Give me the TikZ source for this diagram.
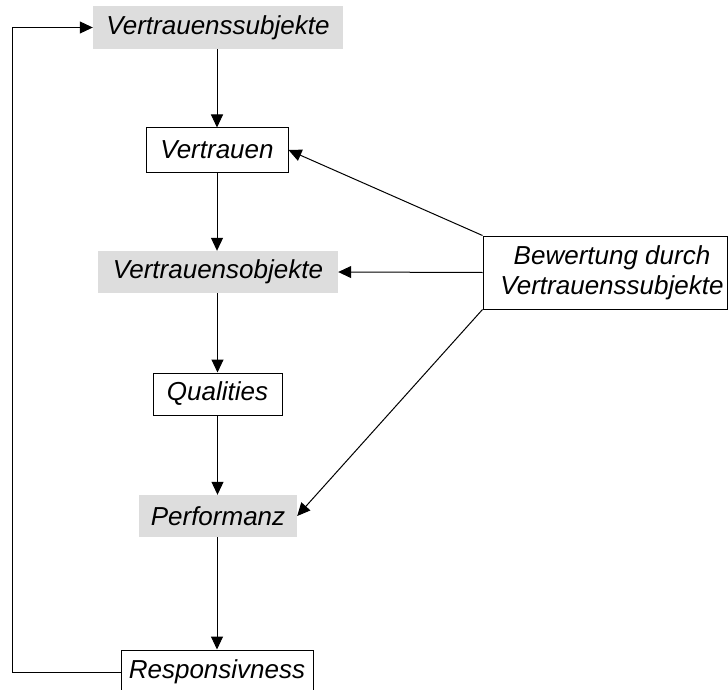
\documentclass[tikz,border=0pt]{standalone}
\usepackage{fontspec}
\setmainfont{Liberation Sans}
\usetikzlibrary{arrows.meta}
\definecolor{boxgray}{RGB}{221,221,221}
\tikzset{
  lbl/.style={font=\fontsize{26}{30}\selectfont\itshape, inner sep=0pt, align=center},
  grayfill/.style={lbl, fill=boxgray},
  framed/.style={lbl, draw=black, line width=1pt, fill=white},
  conn/.style={line width=1pt, -{Triangle[length=13pt,width=12pt]}}
}
\begin{document}
\begin{tikzpicture}[x=1pt,y=-1pt]
\useasboundingbox (0,0) rectangle (728,690);
\node[grayfill, minimum width=250pt, minimum height=43pt] (vs) at (218,27.5) {Vertrauenssubjekte};
\node[framed, minimum width=142pt, minimum height=44pt] (v) at (217,150) {Vertrauen};
\node[grayfill, minimum width=240pt, minimum height=42pt] (vo) at (218,272) {Vertrauensobjekte};
\node[framed, minimum width=129pt, minimum height=42pt] (q) at (217.5,394) {Qualities};
\node[grayfill, minimum width=158pt, minimum height=42pt] (p) at (218,516) {Performanz};
\node[framed, minimum width=192pt, minimum height=44pt] (r) at (217,672) {Responsivness};
\node[framed, minimum width=244pt, minimum height=73pt] (b) at (605,272.5) {\hspace*{14pt}Bewertung durch\\\hspace*{14pt}Vertrauenssubjekte};
\coordinate (lb) at (12,672);
\coordinate (lt) at (12,27.5);
\draw[conn] (vs.south -| v.north) -- (v.north);
\draw[conn] (v.south) -- (v.south |- vo.north);
\draw[conn] (vo.south -| q.north) -- (q.north);
\draw[conn] (q.south) -- (q.south |- p.north);
\draw[conn] (p.south -| r.north) -- (r.north);
\draw[conn] (r.west) -- (lb) -- (lt) -- (vs.west);
\draw[conn] (b.north west) -- (v.east);
\draw[conn] (b.west) -- (vo.east);
\draw[conn] (b.south west) -- (p.east);
\end{tikzpicture}
\end{document}
